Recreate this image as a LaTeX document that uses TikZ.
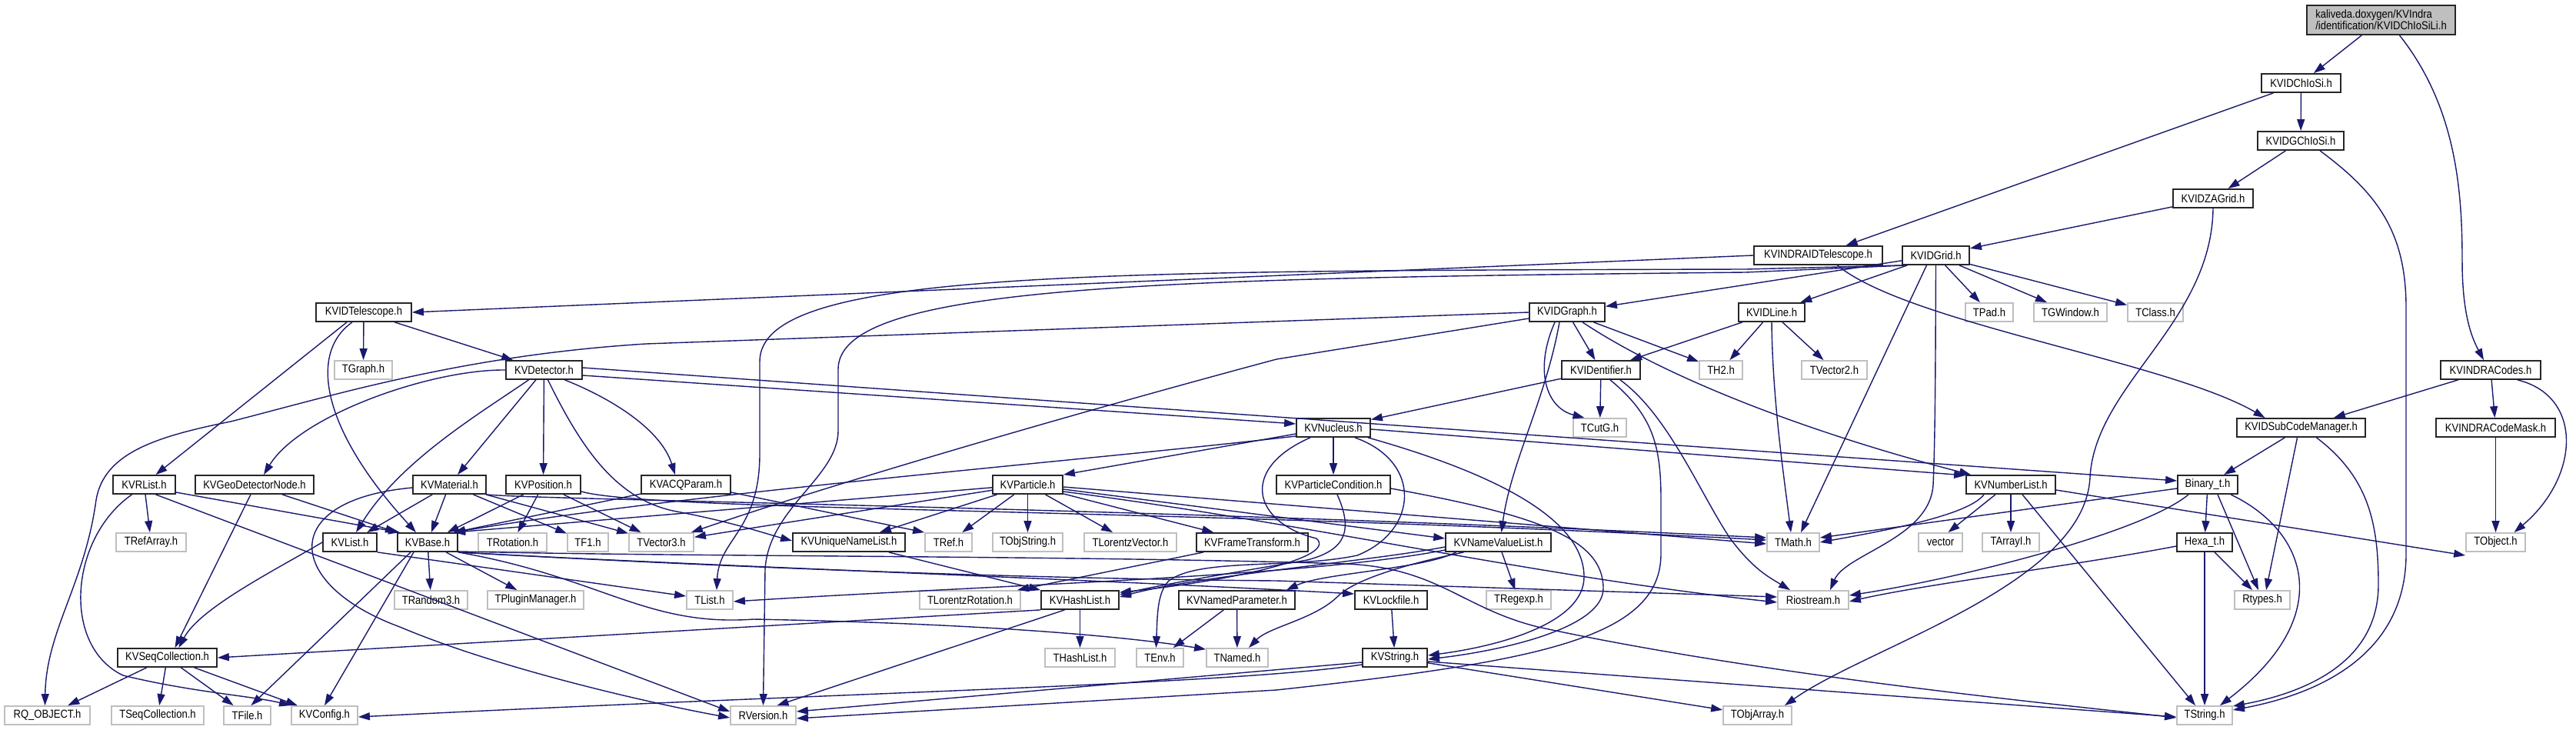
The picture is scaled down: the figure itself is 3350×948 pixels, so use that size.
\documentclass[tikz,border=0pt]{standalone}
\usepackage{fontspec}
\setmainfont{Liberation Sans}[FakeStretch=0.87]
\usetikzlibrary{arrows.meta}
\definecolor{edgeblue}{HTML}{191970}
\definecolor{extgray}{HTML}{BFBFBF}
\tikzset{
  hdr/.style={draw=black!85, fill=white, line width=1.8pt, inner sep=0pt,
              minimum height=24pt, font=\fontsize{15}{15}\selectfont},
  ext/.style={hdr, draw=extgray},
  root/.style={hdr, fill=extgray, minimum height=38pt, align=left},
  dep/.style={-{Triangle[length=15pt,width=10pt]}, edgeblue, line width=1.4pt},
}

\begin{document}
\begin{tikzpicture}[x=1pt,y=-1pt]
  \fill[white] (0,0) rectangle (3350,948);
  \useasboundingbox (0,0) rectangle (3350,948);
  % headers, row by row
  \node[root, minimum width=193] (kal) at (3096.5,26) {kaliveda.doxygen/KVIndra\\/identification/KVIDChIoSiLi.h};
  \node[hdr, minimum width=103] (idchiosi) at (2992.5,108) {KVIDChIoSi.h};
  \node[hdr, minimum width=112] (idgchiosi) at (2992,183) {KVIDGChIoSi.h};
  \node[hdr, minimum width=104] (idzagrid) at (2878,258) {KVIDZAGrid.h};
  \node[hdr, minimum width=167] (indraidtel) at (2364.5,332) {KVINDRAIDTelescope.h};
  \node[hdr, minimum width=87] (idgrid) at (2517.5,332) {KVIDGrid.h};
  \node[hdr, minimum width=124] (idtel) at (473,406) {KVIDTelescope.h};
  \node[hdr, minimum width=98] (idgraph) at (2038,406) {KVIDGraph.h};
  \node[hdr, minimum width=86] (idline) at (2304,406) {KVIDLine.h};
  \node[ext, minimum width=62] (tpad) at (2587,406) {TPad.h};
  \node[ext, minimum width=95] (tgwindow) at (2692.5,406) {TGWindow.h};
  \node[ext, minimum width=72] (tclass) at (2803,406) {TClass.h};
  \node[ext, minimum width=75] (tgraph) at (472.5,481) {TGraph.h};
  \node[hdr, minimum width=99] (detector) at (707.5,481) {KVDetector.h};
  \node[hdr, minimum width=102] (identifier) at (2082,481) {KVIDentifier.h};
  \node[ext, minimum width=56] (th2) at (2238,481) {TH2.h};
  \node[ext, minimum width=85] (tvector2) at (2385.5,481) {TVector2.h};
  \node[hdr, minimum width=130] (indracodes) at (3239,481) {KVINDRACodes.h};
  \node[hdr, minimum width=96] (nucleus) at (1734,556) {KVNucleus.h};
  \node[ext, minimum width=69] (tcutg) at (2080.5,556) {TCutG.h};
  \node[hdr, minimum width=167] (subcode) at (2992.5,556) {KVIDSubCodeManager.h};
  \node[hdr, minimum width=155] (codemask) at (3245.5,556) {KVINDRACodeMask.h};
  \node[hdr, minimum width=81] (rlist) at (187.5,630) {KVRList.h};
  \node[hdr, minimum width=154] (geonode) at (331,630) {KVGeoDetectorNode.h};
  \node[hdr, minimum width=95] (material) at (584.5,630) {KVMaterial.h};
  \node[hdr, minimum width=97] (position) at (706.5,630) {KVPosition.h};
  \node[hdr, minimum width=116] (acqparam) at (892,630) {KVACQParam.h};
  \node[hdr, minimum width=91] (particle) at (1336.5,630) {KVParticle.h};
  \node[hdr, minimum width=148] (partcond) at (1734,630) {KVParticleCondition.h};
  \node[hdr, minimum width=116] (numberlist) at (2615,630) {KVNumberList.h};
  \node[hdr, minimum width=78] (binary) at (2871,630) {Binary\_t.h};
  \node[ext, minimum width=91] (trefarray) at (196.5,705) {TRefArray.h};
  \node[hdr, minimum width=70] (kvlist) at (455,705) {KVList.h};
  \node[hdr, minimum width=78] (kvbase) at (556,705) {KVBase.h};
  \node[ext, minimum width=89] (trotation) at (666.5,705) {TRotation.h};
  \node[ext, minimum width=53] (tfone) at (764.5,705) {TF1.h};
  \node[ext, minimum width=84] (tvector3) at (860,705) {TVector3.h};
  \node[hdr, minimum width=146] (uniquenl) at (1104,705) {KVUniqueNameList.h};
  \node[ext, minimum width=61] (tref) at (1233.5,705) {TRef.h};
  \node[ext, minimum width=91] (tobjstring) at (1336.5,705) {TObjString.h};
  \node[ext, minimum width=120] (tlorentzvec) at (1470,705) {TLorentzVector.h};
  \node[hdr, minimum width=145] (frametrans) at (1628.5,705) {KVFrameTransform.h};
  \node[hdr, minimum width=137] (namevaluelist) at (1948.5,705) {KVNameValueList.h};
  \node[ext, minimum width=68] (tmath) at (2332,705) {TMath.h};
  \node[ext, minimum width=57] (vectorh) at (2523.5,705) {vector};
  \node[ext, minimum width=74] (tarrayi) at (2615,705) {TArrayI.h};
  \node[hdr, minimum width=72] (hexa) at (2867,705) {Hexa\_t.h};
  \node[ext, minimum width=77] (tobject) at (3245.5,705) {TObject.h};
  \node[ext, minimum width=95] (trandom) at (560.5,780) {TRandom3.h};
  \node[ext, minimum width=125] (tplugin) at (696.5,780) {TPluginManager.h};
  \node[ext, minimum width=60] (tlist) at (923,780) {TList.h};
  \node[ext, minimum width=131] (tlorentzrot) at (1261.5,780) {TLorentzRotation.h};
  \node[hdr, minimum width=101] (hashlist) at (1404.5,780) {KVHashList.h};
  \node[hdr, minimum width=151] (namedpar) at (1608.5,780) {KVNamedParameter.h};
  \node[hdr, minimum width=94] (lockfile) at (1809,780) {KVLockfile.h};
  \node[ext, minimum width=84] (tregexp) at (1975,780) {TRegexp.h};
  \node[ext, minimum width=92] (riostream) at (2358,780) {Riostream.h};
  \node[ext, minimum width=72] (rtypes) at (2942,780) {Rtypes.h};
  \node[hdr, minimum width=129] (seqcoll) at (217.5,855) {KVSeqCollection.h};
  \node[ext, minimum width=91] (thashlist) at (1404.5,855) {THashList.h};
  \node[ext, minimum width=61] (tenv) at (1508.5,855) {TEnv.h};
  \node[ext, minimum width=80] (tnamed) at (1609,855) {TNamed.h};
  \node[hdr, minimum width=84] (kvstring) at (1814,855) {KVString.h};
  \node[ext, minimum width=111] (rqobject) at (61.5,930) {RQ\_OBJECT.h};
  \node[ext, minimum width=120] (tseqcoll) at (205,930) {TSeqCollection.h};
  \node[ext, minimum width=61] (tfile) at (321.5,930) {TFile.h};
  \node[ext, minimum width=86] (kvconfig) at (422,930) {KVConfig.h};
  \node[ext, minimum width=85] (rversion) at (992.5,930) {RVersion.h};
  \node[ext, minimum width=89] (tobjarray) at (2285.5,930) {TObjArray.h};
  \node[ext, minimum width=72] (tstring) at (2867,930) {TString.h};

  % upper part
  \draw[dep] (kal) -- (idchiosi);
  \draw[dep] ([xshift=24]kal.south) .. controls (3195,140) and (3202,250) .. (3202,340) .. controls (3202,410) and (3215,440) .. ([xshift=-9]indracodes.north);
  \draw[dep] (idchiosi) -- (idgchiosi);
  \draw[dep] (idchiosi) -- (indraidtel);
  \draw[dep] (idgchiosi) -- (idzagrid);
  \draw[dep] ([xshift=25]idgchiosi.south) .. controls (3090,250) and (3129,300) .. (3129,400) -- (3129,720) .. controls (3129,860) and (3000,905) .. ([yshift=7]tstring.east);
  \draw[dep] (idzagrid) -- (idgrid);
  \draw[dep] (idzagrid.south) .. controls (2876,420) and (2725,500) .. (2718,620) .. controls (2712,760) and (2430,840) .. ([xshift=-10]tobjarray.north east);
  \draw[dep] (indraidtel.west) -- (idtel.east);
  \draw[dep] ([xshift=25]indraidtel.south) .. controls (2480,420) and (2820,470) .. ([xshift=-47]subcode.north);
  \draw[dep] (idgrid) -- (idgraph);
  \draw[dep] (idgrid) -- (idline);
  \draw[dep] (idgrid) -- (tpad);
  \draw[dep] (idgrid) -- (tgwindow);
  \draw[dep] (idgrid) -- (tclass);
  \draw[dep] ([xshift=-12]idgrid.south) -- ([xshift=10]tmath.north);
  \draw[dep] (idgrid.south) .. controls (2517,450) and (2517,560) .. (2514,630) .. controls (2510,700) and (2400,720) .. ([xshift=22]riostream.north);
  \draw[dep] ([xshift=2]idgrid.south west) -- (2270,350) .. controls (1400,352) and (988,352) .. (988,470) -- (988,590) .. controls (988,690) and (935,700) .. ([xshift=9]tlist.north);
  \draw[dep] ([xshift=6]idgrid.south west) -- (2270,354) .. controls (1500,362) and (1090,370) .. (1090,480) -- (1090,560) .. controls (1090,620) and (1000,660) .. (995,740) -- (rversion.north);
  \draw[dep] (idgraph) -- (identifier);
  \draw[dep] ([xshift=-16]idgraph.south) .. controls (1995,480) and (2010,530) .. ([xshift=-20]tcutg.north);
  \draw[dep] (idgraph) -- (th2);
  \draw[dep] ([xshift=20]idgraph.south) .. controls (2180,500) and (2380,570) .. ([xshift=-52]numberlist.north);
  \draw[dep] ([xshift=-10]idgraph.south) .. controls (2010,520) and (1965,600) .. ([xshift=4]namevaluelist.north);
  \draw[dep] (idgraph.west) -- (840,447) .. controls (600,462) and (430,515) .. (300,548) .. controls (200,568) and (135,590) .. (125,650) .. controls (110,760) and (60,820) .. ([xshift=-3]rqobject.north);
  \draw[dep] ([yshift=-8]idgraph.west) -- (1660,467) .. controls (1350,550) and (1050,640) .. ([xshift=-4]tvector3.north east);
  \draw[dep] (idline) -- (identifier);
  \draw[dep] (idline) -- (th2);
  \draw[dep] (idline) -- (tvector2);
  \draw[dep] (idline.south) .. controls (2305,520) and (2320,620) .. ([xshift=-3]tmath.north);
  \draw[dep] (identifier) -- (nucleus);
  \draw[dep] (identifier) -- (tcutg);
  \draw[dep] ([xshift=12]identifier.south) .. controls (2150,540) and (2160,580) .. (2160,650) -- (2160,720) .. controls (2160,830) and (2000,860) .. (1660,897) -- ([yshift=-4]rversion.east);
  \draw[dep] ([xshift=25]identifier.south) .. controls (2170,540) and (2210,640) .. (2250,700) .. controls (2280,740) and (2300,750) .. ([xshift=-30]riostream.north);
  \draw[dep] (indracodes) -- (subcode);
  \draw[dep] (indracodes) -- (codemask);
  \draw[dep] ([xshift=35]indracodes.south) .. controls (3360,515) and (3355,620) .. ([xshift=24]tobject.north);
  \draw[dep] (codemask) -- (tobject);
  \draw[dep] (subcode) -- (binary);
  \draw[dep] ([xshift=-5]subcode.south) -- ([xshift=5]rtypes.north);
  \draw[dep] ([xshift=20]subcode.south) .. controls (3080,620) and (3093,680) .. (3093,760) .. controls (3093,860) and (3000,900) .. ([yshift=12]tstring.east);

  % detector side
  \draw[dep] ([xshift=-22]idtel.south) -- ([xshift=15]rlist.north);
  \draw[dep] (idtel) -- (tgraph);
  \draw[dep] (idtel) -- (detector);
  \draw[dep] ([xshift=-15]idtel.south) .. controls (400,460) and (420,560) .. ([xshift=-15]kvbase.north);
  \draw[dep] (detector.west) .. controls (560,480) and (390,540) .. ([xshift=12]geonode.north);
  \draw[dep] ([xshift=-20]detector.south) .. controls (620,540) and (520,600) .. ([xshift=8]kvlist.north);
  \draw[dep] (detector) -- (material);
  \draw[dep] (detector) -- (position);
  \draw[dep] ([xshift=5]detector.south) .. controls (755,580) and (800,650) .. (880,665) .. controls (950,678) and (1000,695) .. ([yshift=2]uniquenl.west);
  \draw[dep] ([xshift=27]detector.south) .. controls (800,520) and (860,560) .. ([xshift=-14]acqparam.north);
  \draw[dep] ([yshift=-7]detector.east) -- ([yshift=5]nucleus.west);
  \draw[dep] ([yshift=3]detector.east) -- ([yshift=5]binary.west);
  \draw[dep] (rlist) -- (trefarray);
  \draw[dep] ([yshift=-10]rlist.east) -- ([xshift=4]kvbase.north west);
  \draw[dep] ([xshift=15]rlist.south) -- ([yshift=5]rversion.west);
  \draw[dep] ([xshift=-16]rlist.south) .. controls (90,700) and (80,840) .. (160,878) .. controls (250,900) and (330,905) .. (kvconfig.north west);
  \draw[dep] ([xshift=-5]geonode.south) -- ([xshift=10]seqcoll.north);
  \draw[dep] ([xshift=36]geonode.south) -- (kvbase.north west);
  \draw[dep] (material) -- (kvlist);
  \draw[dep] (material) -- (kvbase);
  \draw[dep] (material) -- (tfone);
  \draw[dep] (material) -- (tvector3);
  \draw[dep] (material.south east) .. controls (700,650) and (1500,660) .. ([yshift=6]tmath.west);
  \draw[dep] ([yshift=-4]material.west) .. controls (360,650) and (370,760) .. (520,815) .. controls (650,870) and (850,915) .. ([yshift=-3]rversion.west);
  \draw[dep] (position) -- (kvbase);
  \draw[dep] (position) -- (trotation);
  \draw[dep] (position) -- (tvector3);
  \draw[dep] ([yshift=-9]position.east) .. controls (850,665) and (1500,660) .. ([yshift=3]tmath.west);
  \draw[dep] (acqparam) -- ([xshift=-6]kvbase.north east);
  \draw[dep] ([yshift=-10]acqparam.east) -- (tref.north west);

  % particles and lists
  \draw[dep] (nucleus) -- (partcond);
  \draw[dep] ([yshift=-8]nucleus.west) -- (particle.north east);
  \draw[dep] ([yshift=-11]nucleus.west) .. controls (1400,600) and (900,640) .. ([xshift=-6]kvbase.north east);
  \draw[dep] ([yshift=-2]nucleus.east) -- ([yshift=12]numberlist.west);
  \draw[dep] ([xshift=45]nucleus.south) .. controls (1960,620) and (2060,680) .. (2060,750) .. controls (2060,810) and (1950,840) .. ([yshift=3]kvstring.east);
  \draw[dep] ([xshift=28]nucleus.south) .. controls (1850,600) and (1845,690) .. (1765,722) .. controls (1680,740) and (1560,725) .. (1520,755) .. controls (1505,770) and (1505,800) .. ([xshift=-5]tenv.north);
  \draw[dep] ([xshift=-30]nucleus.south) .. controls (1610,610) and (1630,680) .. (1712,700) .. controls (1740,725) and (1600,755) .. ([yshift=-3]hashlist.north east);
  \draw[dep] ([yshift=-5]partcond.east) .. controls (2000,670) and (2085,700) .. (2085,765) .. controls (2085,815) and (1960,845) .. ([yshift=-2]kvstring.east);
  \draw[dep] ([xshift=5]partcond.south) .. controls (1760,690) and (1750,715) .. (1700,728) .. controls (1600,745) and (1510,760) .. ([yshift=-6]hashlist.north east);
  \draw[dep] (particle) -- ([xshift=-6]kvbase.north east);
  \draw[dep] (particle) -- (tvector3);
  \draw[dep] (particle) -- (uniquenl);
  \draw[dep] (particle) -- (tref);
  \draw[dep] (particle) -- (tobjstring);
  \draw[dep] (particle) -- (tlorentzvec);
  \draw[dep] (particle) -- (frametrans);
  \draw[dep] ([yshift=-3]particle.east) -- ([yshift=-2]tmath.west);
  \draw[dep] ([yshift=-6]particle.east) -- ([yshift=5]namevaluelist.west);
  \draw[dep] ([yshift=-9]particle.east) .. controls (1700,680) and (2000,750) .. ([yshift=-3]riostream.west);
  \draw[dep] (frametrans) -- ([xshift=-5]tlorentzrot.north east);
  \draw[dep] (uniquenl) -- (hashlist.north west);
  \draw[dep] (kvlist.west) .. controls (360,740) and (260,790) .. ([xshift=15]seqcoll.north);
  \draw[dep] (kvlist.south east) -- ([yshift=5]tlist.west);
  \draw[dep] (kvbase) -- (trandom);
  \draw[dep] (kvbase) -- (tplugin);
  \draw[dep] ([xshift=-22]kvbase.south) -- ([xshift=5]tfile.north);
  \draw[dep] ([xshift=-18]kvbase.south) -- (kvconfig.north);
  \draw[dep] ([yshift=1]kvbase.south east) .. controls (900,724) and (1400,722) .. (1750,733) .. controls (1870,738) and (1900,790) .. (2000,815) .. controls (2300,880) and (2700,918) .. ([yshift=-3]tstring.west);
  \draw[dep] (kvbase.south east) .. controls (900,735) and (1300,752) .. (1660,755) -- ([yshift=4]riostream.west);
  \draw[dep] (kvbase.south east) .. controls (900,735) and (1400,752) .. ([yshift=8]lockfile.west);
  \draw[dep] (kvbase.south east) .. controls (780,750) and (840,815) .. (980,805) .. controls (1250,810) and (1450,825) .. ([yshift=-2]tnamed.north west);
  \draw[dep] (hashlist) -- (thashlist);
  \draw[dep] ([xshift=-20]hashlist.south) -- ([xshift=18]rversion.north);
  \draw[dep] (hashlist.south west) -- (seqcoll.east);
  \draw[dep] (namedpar) -- (tenv);
  \draw[dep] (namedpar) -- (tnamed);
  \draw[dep] (namevaluelist) -- (tregexp);
  \draw[dep] ([yshift=-6]namevaluelist.west) .. controls (1780,730) and (1560,748) .. ([yshift=-9]hashlist.north east);
  \draw[dep] ([yshift=-10]namevaluelist.west) .. controls (1700,750) and (1300,760) .. ([yshift=-2]tlist.east);
  \draw[dep] ([xshift=-55]namevaluelist.south) .. controls (1850,740) and (1720,745) .. ([xshift=-12]namedpar.north east);
  \draw[dep] ([xshift=-45]namevaluelist.south) .. controls (1820,735) and (1760,755) .. (1740,775) .. controls (1710,805) and (1650,815) .. ([xshift=15]tnamed.north);
  \draw[dep] (lockfile) -- (kvstring);
  \draw[dep] ([yshift=-6]kvstring.west) -- ([yshift=5]rversion.east);
  \draw[dep] ([yshift=-9]kvstring.west) .. controls (1600,890) and (1100,900) .. ([yshift=-2]kvconfig.east);
  \draw[dep] (kvstring) -- (tobjarray);
  \draw[dep] ([yshift=-5]kvstring.east) -- ([yshift=-2]tstring.west);
  \draw[dep] (seqcoll) -- (rqobject);
  \draw[dep] (seqcoll) -- (tseqcoll);
  \draw[dep] (seqcoll) -- (tfile);
  \draw[dep] (seqcoll) -- (kvconfig);

  % number lists and codes
  \draw[dep] ([xshift=-20]numberlist.south) -- ([xshift=10]vectorh.north);
  \draw[dep] (numberlist) -- (tarrayi);
  \draw[dep] ([xshift=15]numberlist.south) -- ([xshift=-12]tstring.north);
  \draw[dep] ([yshift=-7]numberlist.east) -- ([yshift=-17]tobject.west);
  \draw[dep] ([xshift=-35]numberlist.south) .. controls (2560,670) and (2450,690) .. (tmath.east);
  \draw[dep] (binary) -- (hexa);
  \draw[dep] ([xshift=13]binary.south) -- ([xshift=-5]rtypes.north);
  \draw[dep] ([xshift=30]binary.south) .. controls (3000,690) and (3040,800) .. ([xshift=20]tstring.north);
  \draw[dep] ([yshift=-5]binary.west) -- ([yshift=6]tmath.east);
  \draw[dep] ([xshift=-25]binary.south) .. controls (2790,690) and (2560,750) .. ([yshift=6]riostream.east);
  \draw[dep] (hexa) -- (tstring);
  \draw[dep] (hexa) -- (rtypes);
  \draw[dep] ([yshift=-5]hexa.west) .. controls (2700,735) and (2500,760) .. ([yshift=-2]riostream.east);
\end{tikzpicture}
\end{document}
